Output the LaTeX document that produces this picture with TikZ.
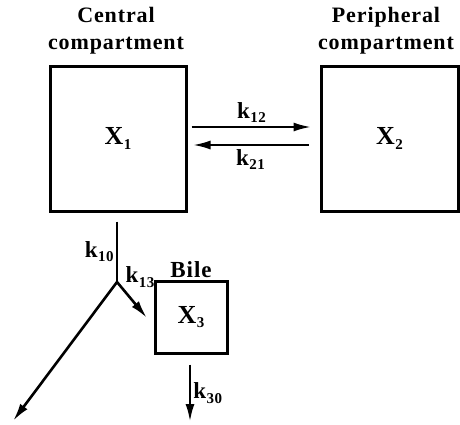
\documentclass[tikz,border=0pt]{standalone}
\usepackage{fontspec}
\setmainfont{Liberation Serif}[LetterSpace=4]
\usepackage{tikz}
\usetikzlibrary{arrows.meta, calc, positioning}
\newcommand{\sub}[1]{\kern0.5pt\raisebox{-4.5pt}{\fontsize{15}{15}\selectfont #1}}
\newcommand{\kk}[1]{k\sub{#1}}
\newcommand{\xx}[1]{X\sub{#1}}

\begin{document}
\begin{tikzpicture}[x=1pt, y=-1pt,
		compbox/.style={draw, line width=3pt, inner sep=0pt},
		flow/.style={-{Latex[length=18pt,width=9pt]}, line width=2.6pt},
		lab/.style={font=\fontsize{23}{26}\selectfont\bfseries, inner sep=1pt},
		xlab/.style={font=\fontsize{26}{28}\selectfont\bfseries},
		head/.style={font=\fontsize{22}{27}\selectfont\bfseries, align=center}]
	\useasboundingbox (0,0) rectangle (460,424);
	%--- compartments ---
	\node[compbox, minimum width=136pt, minimum height=145pt, xlab] (X1) at (118,138.5) {\xx{1}};
	\node[compbox, minimum width=137pt, minimum height=145pt, xlab] (X2) at (389.5,138.5) {\xx{2}};
	\node[compbox, minimum width=72pt, minimum height=72pt, xlab] (X3) at (191,317) {\xx{3}};
	\node[head] (cen) at (116,31) {Central\\compartment};
	\node[head] (per) at (386,31) {Peripheral\\compartment};
	\node[lab, above=1pt of X3] (bile) {Bile};
	%--- exchange X1 <-> X2 ---
	\draw[flow] ([xshift=4pt,yshift=11.5pt]X1.east) -- ([xshift=-8pt,yshift=11.5pt]X2.west)
		node[lab, midway, above=2pt] (k12) {\kk{12}};
	\draw[flow] ([xshift=-11pt,yshift=-6.5pt]X2.west) -- ([xshift=5pt,yshift=-6.5pt]X1.east)
		node[lab, midway, below=2pt] (k21) {\kk{21}};
	%--- elimination ---
	\coordinate (jn) at (117,282);
	\coordinate (out) at (13,421);
	\coordinate (tobile) at (147,318);
	\draw[line width=2.6pt] ([xshift=-1pt,yshift=-9pt]X1.south) -- (jn)
		node[lab, midway, left=1pt] (k10) {\kk{10}};
	\draw[flow] (jn) -- (out);
	\draw[flow] (jn) -- (tobile);
	\node[lab] (k13) at (140,277) {\kk{13}};
	\coordinate (bout) at (190,422);
	\draw[flow] ([xshift=-1pt,yshift=-10pt]X3.south) -- (bout)
		node[lab, midway, right=1pt] (k30) {\kk{30}};
\end{tikzpicture}
\end{document}
